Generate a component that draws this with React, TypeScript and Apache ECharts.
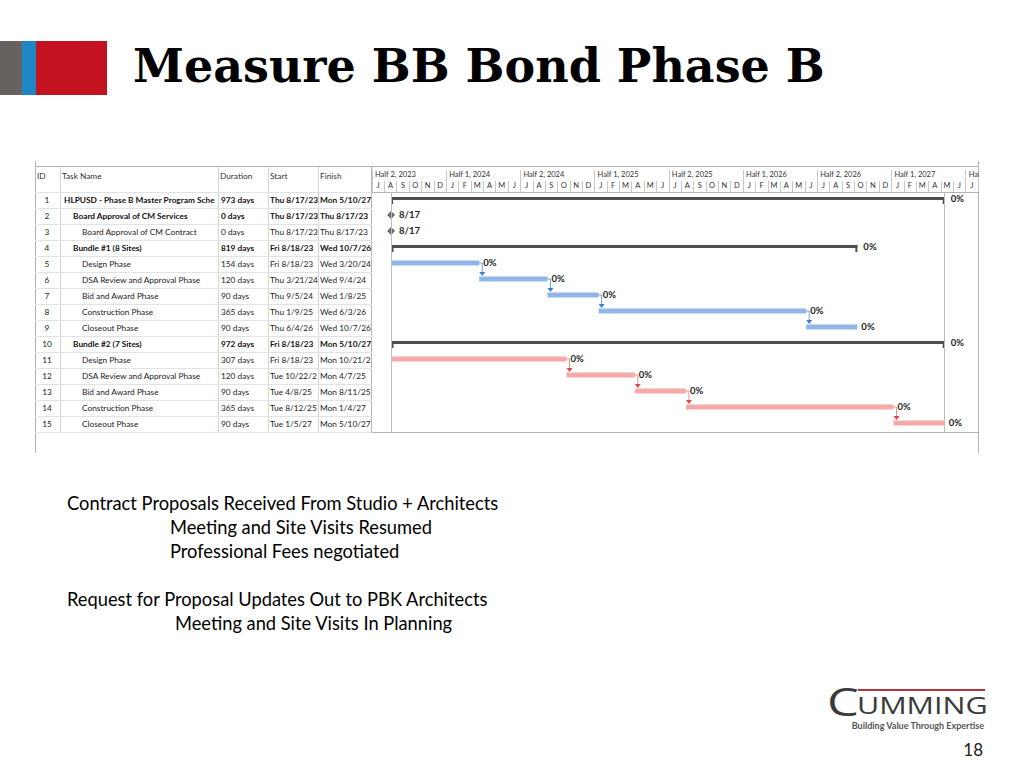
import React, { useEffect, useRef } from 'react';
import * as echarts from 'echarts';

// ---------- data ----------
const taskIds = ['1', '2', '3', '4', '5', '6', '7', '8', '9', '10', '11', '12', '13', '14', '15'];
const taskNames = [
  'HLPUSD - Phase B Master Program Schedule',
  'Board Approval of CM Services',
  'Board Approval of CM Contract',
  'Bundle #1 (8 Sites)',
  'Design Phase',
  'DSA Review and Approval Phase',
  'Bid and Award Phase',
  'Construction Phase',
  'Closeout Phase',
  'Bundle #2 (7 Sites)',
  'Design Phase',
  'DSA Review and Approval Phase',
  'Bid and Award Phase',
  'Construction Phase',
  'Closeout Phase',
];
const taskLevels = [0, 1, 2, 1, 2, 2, 2, 2, 2, 1, 2, 2, 2, 2, 2];
const taskBold = [true, true, false, true, false, false, false, false, false, true, false, false, false, false, false];
const durations = ['973 days', '0 days', '0 days', '819 days', '154 days', '120 days', '90 days', '365 days', '90 days', '972 days', '307 days', '120 days', '90 days', '365 days', '90 days'];
const startLabels = ['Thu 8/17/23', 'Thu 8/17/23', 'Thu 8/17/23', 'Fri 8/18/23', 'Fri 8/18/23', 'Thu 3/21/24', 'Thu 9/5/24', 'Thu 1/9/25', 'Thu 6/4/26', 'Fri 8/18/23', 'Fri 8/18/23', 'Tue 10/22/24', 'Tue 4/8/25', 'Tue 8/12/25', 'Tue 1/5/27'];
const finishLabels = ['Mon 5/10/27', 'Thu 8/17/23', 'Thu 8/17/23', 'Wed 10/7/26', 'Wed 3/20/24', 'Wed 9/4/24', 'Wed 1/8/25', 'Wed 6/3/26', 'Wed 10/7/26', 'Mon 5/10/27', 'Mon 10/21/24', 'Mon 4/7/25', 'Mon 8/11/25', 'Mon 1/4/27', 'Mon 5/10/27'];
const startDates = ['2023-08-17', '2023-08-17', '2023-08-17', '2023-08-18', '2023-08-18', '2024-03-21', '2024-09-05', '2025-01-09', '2026-06-04', '2023-08-18', '2023-08-18', '2024-10-22', '2025-04-08', '2025-08-12', '2027-01-05'];
const finishDates = ['2027-05-10', '2023-08-17', '2023-08-17', '2026-10-07', '2024-03-20', '2024-09-04', '2025-01-08', '2026-06-03', '2026-10-07', '2027-05-10', '2024-10-21', '2025-04-07', '2025-08-11', '2027-01-04', '2027-05-10'];
const taskKinds = ['summary', 'milestone', 'milestone', 'summary', 'bundle1', 'bundle1', 'bundle1', 'bundle1', 'bundle1', 'summary', 'bundle2', 'bundle2', 'bundle2', 'bundle2', 'bundle2'];
const barLabels = ['0%', '8/17', '8/17', '0%', '0%', '0%', '0%', '0%', '0%', '0%', '0%', '0%', '0%', '0%', '0%'];
// zero-based row index of the successor task (-1 = none)
const successors = [-1, -1, -1, -1, 5, 6, 7, 8, -1, -1, 11, 12, 13, 14, -1];

const timelineStart = '2023-07-01';
const timelineEnd = '2027-08-01';
const monthLetters = [
  'J', 'A', 'S', 'O', 'N', 'D',
  'J', 'F', 'M', 'A', 'M', 'J', 'J', 'A', 'S', 'O', 'N', 'D',
  'J', 'F', 'M', 'A', 'M', 'J', 'J', 'A', 'S', 'O', 'N', 'D',
  'J', 'F', 'M', 'A', 'M', 'J', 'J', 'A', 'S', 'O', 'N', 'D',
  'J', 'F', 'M', 'A', 'M', 'J', 'J',
];
const halfLabels = ['Half 2, 2023', 'Half 1, 2024', 'Half 2, 2024', 'Half 1, 2025', 'Half 2, 2025', 'Half 1, 2026', 'Half 2, 2026', 'Half 1, 2027', 'Half 2, 2027'];
const columnHeaders = ['ID', 'Task Name', 'Duration', 'Start', 'Finish'];

const titleText = 'Measure BB Bond Phase B';
const noteLines = [
  'Contract Proposals Received From Studio + Architects',
  'Meeting and Site Visits Resumed',
  'Professional Fees negotiated',
  'Request for Proposal Updates Out to PBK Architects',
  'Meeting and Site Visits In Planning',
];
const noteIndents = [67, 170, 170, 67, 175];
const noteYs = [503, 527, 551, 599, 623];
const pageNumber = '18';

// ---------- helpers ----------
const DAY = 86400000;
const parseDay = (s: string) => {
  const [y, m, d] = s.split('-').map(Number);
  return new Date(y, m - 1, d).getTime();
};
const kindIndex: Record<string, number> = { summary: 0, milestone: 1, bundle1: 2, bundle2: 3 };
const barFill = ['#4d4d4d', '#6b6b6b', '#8fb6e6', '#f5a9a9'];
const lineFill = ['#4d4d4d', '#6b6b6b', '#6fa0dc', '#ee8c8c'];
const arrowFill = ['#4d4d4d', '#6b6b6b', '#3d7fcf', '#d9474a'];

const TABLE_FONT = 'Lato, sans-serif';
const TFS = 8.3;
const BODY_FONT = "Lato, 'Open Sans', sans-serif";

const GRID_TOP = 192;
const GRID_H = 240;
const GANTT_LEFT = 372;
const GANTT_RIGHT = 978;
const TABLE_LEFT = 35;
const HEADER_TOP = 167;

export default function App() {
  const ref = useRef<HTMLDivElement>(null);

  useEffect(() => {
    if (!ref.current) return;
    const chart = echarts.init(ref.current, undefined, { renderer: 'svg' });

    const seriesData = taskIds.map((_, i) => [
      i,
      parseDay(startDates[i]),
      parseDay(finishDates[i]) + DAY,
      kindIndex[taskKinds[i]],
      successors[i],
    ]);

    const renderItem = (params: any, api: any) => {
      const row = api.value(0);
      const kind = api.value(3);
      const succ = api.value(4);
      const s = api.coord([api.value(1), row]);
      const e = api.coord([api.value(2), row]);
      const y = s[1] - 1;
      const label = barLabels[params.dataIndex];
      const children: any[] = [];
      const labelEl = (x: number) => ({
        type: 'text',
        x,
        y: y - 1,
        style: {
          text: label,
          font: `bold 9.5px ${TABLE_FONT}`,
          fill: '#222',
          verticalAlign: 'middle',
          align: 'left',
        },
      });
      if (kind === 0) {
        const w = e[0] - s[0];
        children.push({ type: 'rect', shape: { x: s[0], y: y - 2, width: w, height: 3 }, style: { fill: barFill[0] } });
        children.push({ type: 'rect', shape: { x: s[0], y: y - 2, width: 2, height: 7 }, style: { fill: barFill[0] } });
        children.push({ type: 'rect', shape: { x: e[0] - 2, y: y - 2, width: 2, height: 7 }, style: { fill: barFill[0] } });
        children.push(labelEl(e[0] + 6));
      } else if (kind === 1) {
        const x = s[0];
        children.push({
          type: 'polygon',
          shape: { points: [[x, y - 4], [x + 4, y], [x, y + 4], [x - 4, y]] },
          style: { fill: barFill[1] },
        });
        children.push(labelEl(x + 8));
      } else {
        children.push({
          type: 'rect',
          shape: { x: s[0], y: y - 2.5, width: e[0] - s[0], height: 5 },
          style: { fill: barFill[kind] },
        });
        children.push(labelEl(e[0] + 4));
        if (succ >= 0) {
          const ny = api.coord([api.value(2), succ])[1] - 1;
          const ax = e[0] + 3;
          const tipY = ny - 3;
          children.push({
            type: 'polyline',
            shape: { points: [[e[0], y], [ax, y], [ax, tipY - 3]] },
            style: { stroke: lineFill[kind], lineWidth: 1, fill: 'none' },
          });
          children.push({
            type: 'polygon',
            shape: { points: [[ax - 3, tipY - 4], [ax + 3, tipY - 4], [ax, tipY]] },
            style: { fill: arrowFill[kind] },
          });
        }
      }
      return { type: 'group', children };
    };

    const colAxis = (labels: string[], margin: number, width: number, align: string, boldRows: boolean) => ({
      type: 'category',
      gridIndex: 0,
      inverse: true,
      data: labels,
      position: 'left',
      axisLine: { show: false },
      axisTick: { show: false },
      splitLine: { show: false },
      axisLabel: {
        interval: 0,
        margin,
        align,
        width,
        overflow: 'truncate',
        ellipsis: '',
        formatter: (v: string, i: number) => `{${boldRows && taskBold[i] ? 'b' : 'n'}|${v}}`,
        rich: {
          b: { fontFamily: TABLE_FONT, fontSize: TFS, fontWeight: 'bold', color: '#111' },
          n: { fontFamily: TABLE_FONT, fontSize: TFS, color: '#222' },
        },
      },
    });

    const graphics: any[] = [];
    // title block
    graphics.push({ type: 'rect', shape: { x: 0, y: 41, width: 22, height: 54 }, style: { fill: '#676160' } });
    graphics.push({ type: 'rect', shape: { x: 22, y: 41, width: 14, height: 54 }, style: { fill: '#1f86c6' } });
    graphics.push({ type: 'rect', shape: { x: 36, y: 41, width: 71, height: 54 }, style: { fill: '#c3121f' } });
    graphics.push({
      type: 'text', x: 133, y: 66,
      style: { text: titleText, font: "bold 46px 'DejaVu Serif', serif", fill: '#000', verticalAlign: 'middle' },
    });
    // table frame
    const hl = (x1: number, x2: number, y: number, stroke = '#b4b4b4') =>
      graphics.push({ type: 'line', shape: { x1, y1: y + 0.5, x2, y2: y + 0.5 }, style: { stroke, lineWidth: 1 } });
    const vl = (x: number, y1: number, y2: number, stroke = '#b4b4b4') =>
      graphics.push({ type: 'line', shape: { x1: x + 0.5, y1, x2: x + 0.5, y2 }, style: { stroke, lineWidth: 1 } });
    hl(TABLE_LEFT, GANTT_RIGHT, HEADER_TOP - 1);
    hl(TABLE_LEFT, GANTT_RIGHT, GRID_TOP + GRID_H);
    vl(TABLE_LEFT, 161, 453);
    vl(GANTT_RIGHT, 161, 453);
    [60, 218, 268, 318].forEach((x) => vl(x, HEADER_TOP, GRID_TOP + GRID_H, '#d4d4d4'));
    vl(GANTT_LEFT - 1, HEADER_TOP, GRID_TOP + GRID_H, '#b4b4b4');
    const headerX = [37, 62, 220, 270, 320];
    columnHeaders.forEach((t, i) =>
      graphics.push({
        type: 'text', x: headerX[i], y: 176,
        style: { text: t, font: `${TFS}px ${TABLE_FONT}`, fill: '#333', verticalAlign: 'middle' },
      })
    );
    // cover to clip the last half-year label at the table edge
    graphics.push({ type: 'rect', z: 100, shape: { x: GANTT_RIGHT + 1, y: 165, width: 40, height: 24 }, style: { fill: '#fff' } });
    // notes
    noteLines.forEach((t, i) =>
      graphics.push({
        type: 'text', x: noteIndents[i], y: noteYs[i],
        style: { text: t, font: `18.3px ${BODY_FONT}`, fill: '#000', verticalAlign: 'middle' },
      })
    );
    // logo
    graphics.push({ type: 'rect', shape: { x: 858, y: 689, width: 127, height: 2 }, style: { fill: '#b7323a' } });
    graphics.push({
      type: 'text', x: 827, y: 701, scaleX: 1.3,
      style: { text: 'C', font: "39px 'Open Sans', sans-serif", fill: '#3a3a3a', verticalAlign: 'middle' },
    });
    graphics.push({
      type: 'text', x: 857, y: 705, scaleX: 1.27,
      style: { text: 'UMMING', font: "24px 'Open Sans', sans-serif", fill: '#3a3a3a', verticalAlign: 'middle' },
    });
    graphics.push({
      type: 'text', x: 984, y: 725,
      style: { text: 'Building Value Through Expertise', font: `bold 9px ${BODY_FONT}`, fill: '#555', align: 'right', verticalAlign: 'middle' },
    });
    graphics.push({
      type: 'text', x: 983, y: 749,
      style: { text: pageNumber, font: `17px ${BODY_FONT}`, fill: '#222', align: 'right', verticalAlign: 'middle' },
    });

    chart.setOption({
      animation: false,
      backgroundColor: '#fff',
      grid: [
        { left: GANTT_LEFT, top: GRID_TOP, width: GANTT_RIGHT - GANTT_LEFT, height: GRID_H, containLabel: false },
        { left: TABLE_LEFT, top: GRID_TOP, width: GANTT_LEFT - TABLE_LEFT, height: GRID_H, containLabel: false },
      ],
      xAxis: [
        { type: 'time', gridIndex: 0, min: parseDay(timelineStart), max: parseDay(timelineEnd), show: false },
        {
          type: 'category', gridIndex: 0, position: 'top', data: monthLetters, boundaryGap: true,
          axisLine: { show: true, lineStyle: { color: '#b4b4b4' } },
          axisTick: { show: true, interval: 0, length: 11, lineStyle: { color: '#c8c8c8' } },
          axisLabel: { interval: 0, margin: 3, fontSize: 7.5, fontFamily: TABLE_FONT, color: '#333' },
          splitLine: { show: false },
        },
        {
          type: 'value', gridIndex: 0, position: 'top', offset: 11, min: 0, max: monthLetters.length, interval: 6,
          axisLine: { show: false },
          axisTick: { show: true, length: 11, lineStyle: { color: '#c8c8c8' } },
          axisLabel: {
            margin: 3, align: 'left', padding: [0, 0, 0, 3], fontSize: 7.5, fontFamily: TABLE_FONT, color: '#333',
            showMinLabel: true, showMaxLabel: true,
            formatter: (v: number) => (v % 6 === 0 ? halfLabels[v / 6] || '' : ''),
          },
          splitLine: { show: false },
        },
        { type: 'value', gridIndex: 1, min: 0, max: 1, show: false },
      ],
      yAxis: [
        colAxis(taskIds, 325, 24, 'center', false),
        {
          type: 'category', gridIndex: 0, inverse: true, data: taskNames, position: 'left',
          axisLine: { show: false }, axisTick: { show: false }, splitLine: { show: false },
          axisLabel: {
            interval: 0, margin: 308, align: 'left', width: 156, overflow: 'truncate', ellipsis: '',
            formatter: (v: string, i: number) => `{l${taskLevels[i]}${taskBold[i] ? 'b' : ''}|${v}}`,
            rich: {
              l0b: { fontFamily: TABLE_FONT, fontSize: TFS, fontWeight: 'bold', color: '#111' },
              l1b: { fontFamily: TABLE_FONT, fontSize: TFS, fontWeight: 'bold', color: '#111', padding: [0, 0, 0, 9] },
              l2: { fontFamily: TABLE_FONT, fontSize: TFS, color: '#222', padding: [0, 0, 0, 18] },
            },
          },
        },
        colAxis(durations, 151, 46, 'left', true),
        colAxis(startLabels, 102, 50, 'left', true),
        colAxis(finishLabels, 52, 53, 'left', true),
        {
          type: 'category', gridIndex: 1, inverse: true, data: taskIds,
          axisLine: { show: false }, axisTick: { show: false }, axisLabel: { show: false },
          splitLine: { show: true, interval: 0, lineStyle: { color: '#e2e2e2' } },
        },
      ],
      series: [
        {
          type: 'custom',
          xAxisIndex: 0,
          yAxisIndex: 0,
          clip: false,
          renderItem,
          encode: { x: [1, 2], y: 0 },
          data: seriesData,
          markLine: {
            silent: true,
            symbol: 'none',
            label: { show: false },
            lineStyle: { color: '#bdbdbd', type: 'solid', width: 1 },
            data: [{ xAxis: parseDay(startDates[0]) }, { xAxis: parseDay(finishDates[0]) + DAY }],
          },
        },
      ],
      graphic: graphics,
    });

    return () => chart.dispose();
  }, []);

  return <div ref={ref} style={{ position: 'absolute', left: 0, top: 0, width: 1024, height: 768 }} />;
}
